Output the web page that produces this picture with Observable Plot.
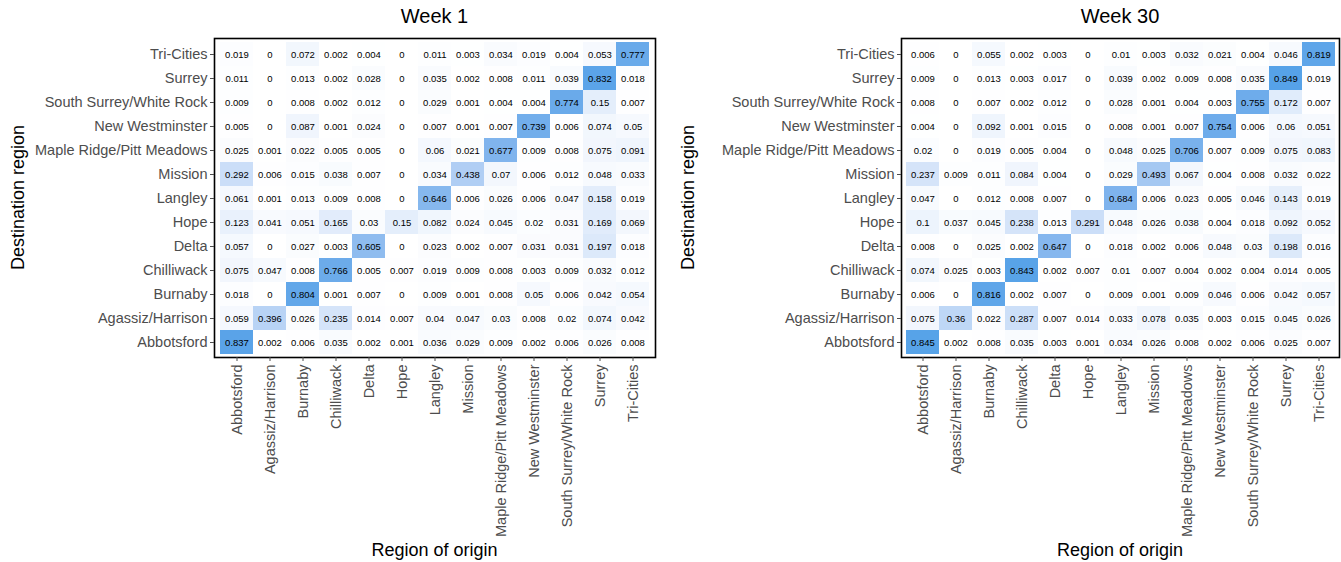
<!DOCTYPE html>
<html>
<head>
<meta charset="utf-8">
<script src="https://cdn.jsdelivr.net/npm/d3@7"></script>
<script src="https://cdn.jsdelivr.net/npm/@observablehq/plot@0.6"></script>
<style>
  html, body { margin: 0; padding: 0; background: #fff; }
  body { width: 1341px; height: 562px; position: relative; overflow: hidden; font-family: "Liberation Sans", Arial, sans-serif; }
  .panel { position: absolute; top: 0; height: 562px; }
  .title { position: absolute; top: 5px; font-size: 20px; color: #000; transform: translateX(-50%); white-space: nowrap; }
  .xlab { position: absolute; top: 540px; font-size: 18px; color: #000; transform: translateX(-50%); white-space: nowrap; }
  .ylab { position: absolute; font-size: 18px; color: #000; white-space: nowrap; transform-origin: 0 0; }
</style>
</head>
<body>
<script>
const regions = ["Abbotsford", "Agassiz/Harrison", "Burnaby", "Chilliwack", "Delta", "Hope", "Langley", "Mission", "Maple Ridge/Pitt Meadows", "New Westminster", "South Surrey/White Rock", "Surrey", "Tri-Cities"];

// rows = destination region (same order as regions), columns = region of origin
const week1 = [
  [0.837, 0.002, 0.006, 0.035, 0.002, 0.001, 0.036, 0.029, 0.009, 0.002, 0.006, 0.026, 0.008],
  [0.059, 0.396, 0.026, 0.235, 0.014, 0.007, 0.04, 0.047, 0.03, 0.008, 0.02, 0.074, 0.042],
  [0.018, 0, 0.804, 0.001, 0.007, 0, 0.009, 0.001, 0.008, 0.05, 0.006, 0.042, 0.054],
  [0.075, 0.047, 0.008, 0.766, 0.005, 0.007, 0.019, 0.009, 0.008, 0.003, 0.009, 0.032, 0.012],
  [0.057, 0, 0.027, 0.003, 0.605, 0, 0.023, 0.002, 0.007, 0.031, 0.031, 0.197, 0.018],
  [0.123, 0.041, 0.051, 0.165, 0.03, 0.15, 0.082, 0.024, 0.045, 0.02, 0.031, 0.169, 0.069],
  [0.061, 0.001, 0.013, 0.009, 0.008, 0, 0.646, 0.006, 0.026, 0.006, 0.047, 0.158, 0.019],
  [0.292, 0.006, 0.015, 0.038, 0.007, 0, 0.034, 0.438, 0.07, 0.006, 0.012, 0.048, 0.033],
  [0.025, 0.001, 0.022, 0.005, 0.005, 0, 0.06, 0.021, 0.677, 0.009, 0.008, 0.075, 0.091],
  [0.005, 0, 0.087, 0.001, 0.024, 0, 0.007, 0.001, 0.007, 0.739, 0.006, 0.074, 0.05],
  [0.009, 0, 0.008, 0.002, 0.012, 0, 0.029, 0.001, 0.004, 0.004, 0.774, 0.15, 0.007],
  [0.011, 0, 0.013, 0.002, 0.028, 0, 0.035, 0.002, 0.008, 0.011, 0.039, 0.832, 0.018],
  [0.019, 0, 0.072, 0.002, 0.004, 0, 0.011, 0.003, 0.034, 0.019, 0.004, 0.053, 0.777]
];

const week30 = [
  [0.845, 0.002, 0.008, 0.035, 0.003, 0.001, 0.034, 0.026, 0.008, 0.002, 0.006, 0.025, 0.007],
  [0.075, 0.36, 0.022, 0.287, 0.007, 0.014, 0.033, 0.078, 0.035, 0.003, 0.015, 0.045, 0.026],
  [0.006, 0, 0.816, 0.002, 0.007, 0, 0.009, 0.001, 0.009, 0.046, 0.006, 0.042, 0.057],
  [0.074, 0.025, 0.003, 0.843, 0.002, 0.007, 0.01, 0.007, 0.004, 0.002, 0.004, 0.014, 0.005],
  [0.008, 0, 0.025, 0.002, 0.647, 0, 0.018, 0.002, 0.006, 0.048, 0.03, 0.198, 0.016],
  [0.1, 0.037, 0.045, 0.238, 0.013, 0.291, 0.048, 0.026, 0.038, 0.004, 0.018, 0.092, 0.052],
  [0.047, 0, 0.012, 0.008, 0.007, 0, 0.684, 0.006, 0.023, 0.005, 0.046, 0.143, 0.019],
  [0.237, 0.009, 0.011, 0.084, 0.004, 0, 0.029, 0.493, 0.067, 0.004, 0.008, 0.032, 0.022],
  [0.02, 0, 0.019, 0.005, 0.004, 0, 0.048, 0.025, 0.706, 0.007, 0.009, 0.075, 0.083],
  [0.004, 0, 0.092, 0.001, 0.015, 0, 0.008, 0.001, 0.007, 0.754, 0.006, 0.06, 0.051],
  [0.008, 0, 0.007, 0.002, 0.012, 0, 0.028, 0.001, 0.004, 0.003, 0.755, 0.172, 0.007],
  [0.009, 0, 0.013, 0.003, 0.017, 0, 0.039, 0.002, 0.009, 0.008, 0.035, 0.849, 0.019],
  [0.006, 0, 0.055, 0.002, 0.003, 0, 0.01, 0.003, 0.032, 0.021, 0.004, 0.046, 0.819]
];

const panels = [
  {title: "Week 1", matrix: week1, left: 0, width: 670, marginLeft: 214, marginRight: 15},
  {title: "Week 30", matrix: week30, left: 670, width: 671, marginLeft: 231, marginRight: 2}
];

function toRows(matrix) {
  const out = [];
  matrix.forEach((row, i) => row.forEach((v, j) => out.push({dest: regions[i], origin: regions[j], value: v})));
  return out;
}

const marginTop = 38, marginBottom = 205, H = 562;

for (const p of panels) {
  const div = document.createElement("div");
  div.className = "panel";
  div.style.left = p.left + "px";
  div.style.width = p.width + "px";
  document.body.appendChild(div);

  const data = toRows(p.matrix);
  const chart = Plot.plot({
    width: p.width,
    height: H,
    marginLeft: p.marginLeft,
    marginRight: p.marginRight,
    marginTop,
    marginBottom,
    style: {fontFamily: "'Liberation Sans', Arial, sans-serif", background: "white"},
    x: {domain: regions, padding: 0, label: null, tickRotate: -90, tickSize: 4, tickPadding: 3},
    y: {domain: regions.slice().reverse(), padding: 0, label: null, tickSize: 4, tickPadding: 3},
    color: {type: "linear", domain: [0, 0.85], range: ["#ffffff", "#56a2e8"], interpolate: "lab"},
    marks: [
      Plot.cell(data, {x: "origin", y: "dest", fill: "value", inset: 0}),
      Plot.text(data, {x: "origin", y: "dest", text: d => String(d.value), fontSize: 9.5, fill: "black"}),
      Plot.frame({stroke: "black", strokeWidth: 1.6}),
      Plot.axisX({tickRotate: -90, tickSize: 4, tickPadding: 3, fontSize: 14.5, color: "#4d4d4d", label: null}),
      Plot.axisY({tickSize: 4, tickPadding: 3, fontSize: 14.5, color: "#4d4d4d", label: null})
    ]
  });
  chart.style.position = "absolute";
  chart.style.left = "0px";
  chart.style.top = "0px";
  div.appendChild(chart);

  const plotCx = p.marginLeft + (p.width - p.marginLeft - p.marginRight) / 2;
  const plotCy = marginTop + (H - marginTop - marginBottom) / 2;

  const t = document.createElement("div");
  t.className = "title";
  t.textContent = p.title;
  t.style.left = plotCx + "px";
  div.appendChild(t);

  const xl = document.createElement("div");
  xl.className = "xlab";
  xl.textContent = "Region of origin";
  xl.style.left = plotCx + "px";
  div.appendChild(xl);

  const yl = document.createElement("div");
  yl.className = "ylab";
  yl.textContent = "Destination region";
  div.appendChild(yl);
  const w = yl.getBoundingClientRect().width;
  yl.style.left = "8px";
  yl.style.top = (plotCy + w / 2) + "px";
  yl.style.transform = "rotate(-90deg)";
}
</script>
</body>
</html>
